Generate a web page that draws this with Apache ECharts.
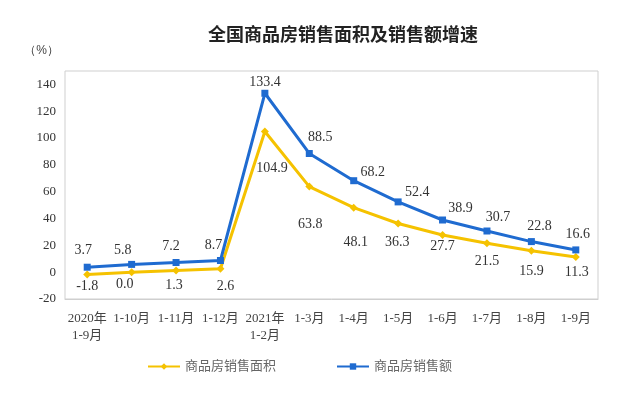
<!DOCTYPE html>
<html>
<head>
<meta charset="utf-8">
<script src="https://cdn.jsdelivr.net/npm/echarts@6/dist/echarts.min.js"></script>
<style>
html,body{margin:0;padding:0;background:#fff;}
#main{width:640px;height:402px;}
</style>
</head>
<body>
<div id="main"></div>
<script>
// 横轴分类
var categories = ['2020年\n1-9月','1-10月','1-11月','1-12月','2021年\n1-2月','1-3月','1-4月','1-5月','1-6月','1-7月','1-8月','1-9月'];
// 商品房销售面积增速（%）
var areaGrowth = [-1.8, 0.0, 1.3, 2.6, 104.9, 63.8, 48.1, 36.3, 27.7, 21.5, 15.9, 11.3];
// 商品房销售额增速（%）
var salesGrowth = [3.7, 5.8, 7.2, 8.7, 133.4, 88.5, 68.2, 52.4, 38.9, 30.7, 22.8, 16.6];
var seriesNames = ['商品房销售面积', '商品房销售额'];

var serif = '"Liberation Serif","Noto Sans CJK SC",serif';
var yellow = '#F5C200';
var blue = '#1F6BD0';

//数值标签的摆放（相对点的偏移，照原图手动摆）
var areaLabelShift = [[0,12],[-7,12],[-2,15],[5,18],[7,37],[1,38],[2,35],[-1,19],[0,11],[0,18],[0,20],[1,15]];
var salesLabelShift = [[-4,-17],[-9,-14],[-5,-16],[-7,-15],[0,-11],[11,-16],[19,-8],[19,-10],[18,-12],[11,-14],[8,-15],[2,-16]];

var myChart = echarts.init(document.getElementById('main'));

function buildData(values, shift) {
    var arr = [];
    for (var i in values) {
        arr.push({value: values[i], label: {offset: shift[i]}});
    }
    return arr;
}

var labelStyle = {
    show: true, position: 'inside', color: '#333', fontSize: 14, fontFamily: serif,
    formatter: function (p) { return p.value.toFixed(1); }
};

var option = {
    backgroundColor: '#fff',
    title: {
        text: '全国商品房销售面积及销售额增速',
        left: 338,
        textAlign: 'center',
        top: 20,
        textStyle: {fontSize: 18, fontWeight: 'bold', color: '#222', fontFamily: '"Noto Sans CJK SC",sans-serif'}
    },
    legend: {
        left: 142,
        top: 355,
        itemWidth: 32,
        itemHeight: 8,
        itemGap: 60,
        textStyle: {fontSize: 13, color: '#666', fontFamily: serif},
        data: seriesNames
    },
    grid: {
        left: 65, right: 42, top: 71, bottom: 103,
        show: true,
        borderColor: '#cfcfcf',
        borderWidth: 1
    },
    xAxis: {
        type: 'category',
        data: categories,
        boundaryGap: true,
        axisLine: {onZero: false, lineStyle: {color: '#cfcfcf'}},
        axisTick: {inside: true, length: 4, lineStyle: {color: '#bbb'}},
        axisLabel: {color: '#444', fontSize: 13, fontFamily: serif, margin: 11, lineHeight: 17, interval: 0}
    },
    yAxis: {
        type: 'value',
        name: '（%）',
        nameLocation: 'end',
        nameGap: 14,
        nameTextStyle: {color: '#444', fontSize: 12, align: 'right', padding: [0, 6, 0, 0]},
        min: -20,
        max: 150,
        interval: 10,
        axisLine: {show: false},
        axisTick: {show: false},
        splitLine: {show: false},
        axisLabel: {
            color: '#333', fontSize: 13, fontFamily: serif, margin: 9,
            formatter: function (v) { return v % 20 === 0 ? v : ''; }
        }
    },
    series: [{
        name: seriesNames[0],
        type: 'line',
        data: buildData(areaGrowth, areaLabelShift),
        symbol: 'diamond',
        symbolSize: 8,
        lineStyle: {width: 3, color: yellow},
        itemStyle: {color: yellow},
        label: labelStyle
    }, {
        name: seriesNames[1],
        type: 'line',
        data: buildData(salesGrowth, salesLabelShift),
        symbol: 'rect',
        symbolSize: 7,
        lineStyle: {width: 3, color: blue},
        itemStyle: {color: blue},
        label: labelStyle
    }]
};
myChart.setOption(option);
</script>
</body>
</html>
